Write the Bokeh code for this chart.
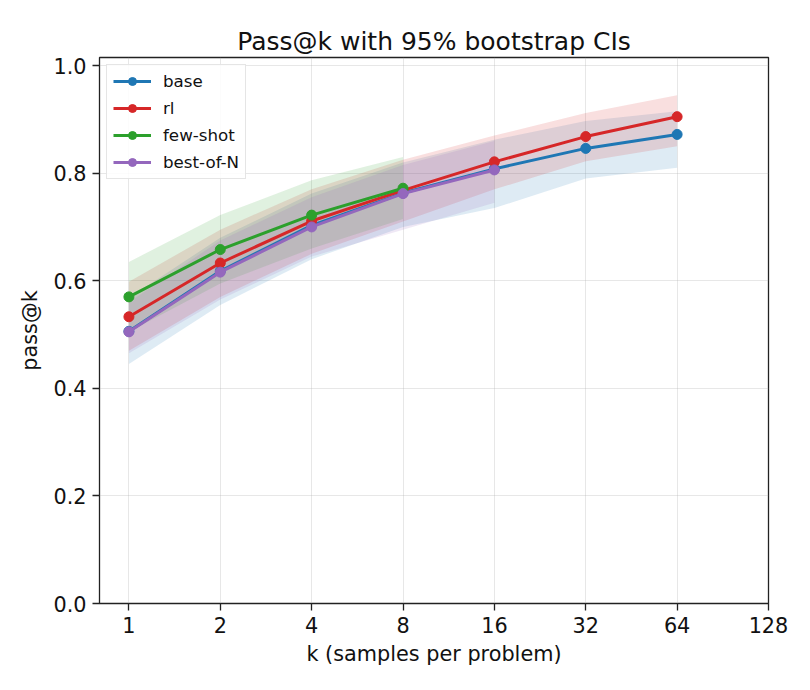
from bokeh.plotting import figure
from bokeh.models import FixedTicker, ColumnDataSource, Legend, LegendItem
from bokeh.embed import file_html
from bokeh.resources import INLINE

# pass@k curves with 95% bootstrap confidence bands
K_TICKS = [1, 2, 4, 8, 16, 32, 64, 128]
Y_TICKS = [0.0, 0.2, 0.4, 0.6, 0.8, 1.0]

base_k = [1, 2, 4, 8, 16, 32, 64]
base_mean = [0.506, 0.618, 0.703, 0.763, 0.808, 0.846, 0.872]
base_lo = [0.445, 0.555, 0.640, 0.700, 0.735, 0.790, 0.810]
base_hi = [0.568, 0.680, 0.762, 0.820, 0.862, 0.897, 0.915]

rl_k = [1, 2, 4, 8, 16, 32, 64]
rl_mean = [0.533, 0.633, 0.711, 0.768, 0.821, 0.868, 0.905]
rl_lo = [0.470, 0.570, 0.650, 0.710, 0.770, 0.822, 0.850]
rl_hi = [0.598, 0.695, 0.770, 0.825, 0.870, 0.912, 0.945]

fs_k = [1, 2, 4, 8]
fs_mean = [0.570, 0.658, 0.722, 0.772]
fs_lo = [0.505, 0.595, 0.660, 0.715]
fs_hi = [0.635, 0.722, 0.787, 0.830]

bon_k = [1, 2, 4, 8, 16]
bon_mean = [0.505, 0.616, 0.700, 0.762, 0.806]
bon_lo = [0.465, 0.565, 0.645, 0.695, 0.745]
bon_hi = [0.560, 0.675, 0.755, 0.815, 0.860]

series = [
    ("base", "#1f77b4", base_k, base_mean, base_lo, base_hi),
    ("rl", "#d62728", rl_k, rl_mean, rl_lo, rl_hi),
    ("few-shot", "#2ca02c", fs_k, fs_mean, fs_lo, fs_hi),
    ("best-of-N", "#9467bd", bon_k, bon_mean, bon_lo, bon_hi),
]

FONT = "DejaVu Sans"

p = figure(
    width=810, height=690,
    frame_width=669, frame_height=546,
    x_axis_type="log",
    x_range=(0.8, 128), y_range=(0.0, 1.015),
    output_backend="svg", toolbar_location=None,
    min_border_left=99, min_border_right=42,
    min_border_top=57, min_border_bottom=87,
    title="Pass@k with 95% bootstrap CIs",
)
p.background_fill_color = "white"
p.border_fill_color = "white"
p.outline_line_color = "#222222"
p.outline_line_width = 1.3

p.title.text_font = FONT
p.title.text_font_size = "25px"
p.title.text_font_style = "normal"
p.title.align = "center"
p.title.text_color = "#111111"
p.title.standoff = 4

items = []
for name, color, ks, mean, lo, hi in series:
    src = ColumnDataSource(dict(k=ks, m=mean, lo=lo, hi=hi))
    p.varea(x="k", y1="lo", y2="hi", source=src, fill_color=color, fill_alpha=0.15)
for name, color, ks, mean, lo, hi in series:
    src = ColumnDataSource(dict(k=ks, m=mean))
    ln = p.line("k", "m", source=src, line_color=color, line_width=3)
    sc = p.scatter("k", "m", source=src, size=10, fill_color=color, line_color=color)
    items.append(LegendItem(label=name, renderers=[ln, sc]))

legend = Legend(items=items, location="top_left")
legend.label_text_font = FONT
legend.label_text_font_size = "16.7px"
legend.label_text_color = "#111111"
legend.border_line_color = "#cccccc"
legend.border_line_width = 1
legend.background_fill_alpha = 0.85
legend.glyph_width = 38
legend.glyph_height = 20
legend.label_height = 20
legend.spacing = 7
legend.padding = 6
legend.margin = 7
legend.label_standoff = 12
p.add_layout(legend)

# axes
p.xaxis.ticker = FixedTicker(ticks=K_TICKS)
p.xaxis.major_label_overrides = {k: str(k) for k in K_TICKS}
p.yaxis.ticker = FixedTicker(ticks=Y_TICKS)
p.yaxis.major_label_overrides = {t: f"{t:.1f}" for t in Y_TICKS}

for ax in (p.xaxis, p.yaxis):
    ax.axis_line_color = None
    ax.major_tick_in = 0
    ax.major_tick_out = 7
    ax.major_tick_line_color = "#222222"
    ax.major_tick_line_width = 1.3
    ax.minor_tick_line_color = None
    ax.major_label_text_font = FONT
    ax.major_label_text_font_size = "20.8px"
    ax.major_label_text_color = "#111111"
    ax.axis_label_text_font = FONT
    ax.axis_label_text_font_size = "20.8px"
    ax.axis_label_text_font_style = "normal"
    ax.axis_label_text_color = "#111111"

p.xaxis.axis_label = "k (samples per problem)"
p.yaxis.axis_label = "pass@k"
p.xaxis.major_label_standoff = 6
p.yaxis.major_label_standoff = 6
p.xaxis.axis_label_standoff = 6
p.yaxis.axis_label_standoff = 8

p.xgrid.ticker = FixedTicker(ticks=K_TICKS)
p.ygrid.ticker = FixedTicker(ticks=Y_TICKS)
for g in (p.xgrid, p.ygrid):
    g.grid_line_color = "#b0b0b0"
    g.grid_line_alpha = 0.3
    g.grid_line_width = 1

open("out.html", "w").write(file_html(p, INLINE))
